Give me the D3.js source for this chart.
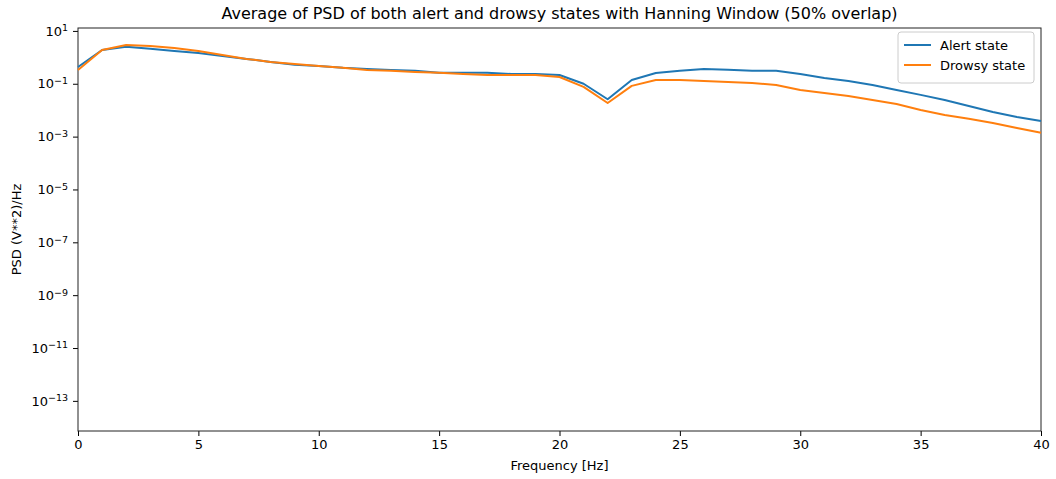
<!doctype html>
<html lang="en">
<head>
  <meta charset="utf-8">
  <title>Average PSD - Hanning Window</title>
  <style>
    body { margin:0; background:#fff; }
    svg text { font-family: "DejaVu Sans", sans-serif; fill:#000; }
    .tick line { stroke:#000; }
    .domain { stroke:none; }
  </style>
</head>
<body>
<svg id="chart" width="1056" height="479"></svg>

<script src="https://cdn.jsdelivr.net/npm/d3@7"></script>
<script>
// frequency bins 0..40 Hz
var freqs = d3.range(0, 41);

var alertPsd = [0.43, 1.9, 2.5, 2.1, 1.75, 1.47, 1.13, 0.87, 0.67, 0.52,
  0.47, 0.40, 0.36, 0.33, 0.31, 0.26, 0.26, 0.26, 0.235, 0.235,
  0.215, 0.10, 0.026, 0.139, 0.257, 0.31, 0.36, 0.34, 0.31, 0.31,
  0.235, 0.166, 0.128, 0.090, 0.058, 0.038, 0.0243, 0.0144, 0.0085, 0.0055,
  0.0039];

var drowsyPsd = [0.33, 1.9, 2.95, 2.7, 2.27, 1.75, 1.23, 0.87, 0.67, 0.56,
  0.47, 0.40, 0.33, 0.31, 0.28, 0.26, 0.235, 0.215, 0.215, 0.215,
  0.18, 0.076, 0.0187, 0.083, 0.139, 0.139, 0.128, 0.117, 0.107, 0.090,
  0.058, 0.045, 0.0345, 0.0243, 0.0172, 0.0102, 0.0066, 0.0047, 0.0033, 0.0021,
  0.0014];

var xTicks = [0, 5, 10, 15, 20, 25, 30, 35, 40];
var yTickExp = [1, -1, -3, -5, -7, -9, -11, -13];

var seriesNames = ["Alert state", "Drowsy state"];
var colors = ["#1f77b4", "#ff7f0e"];

var margin = {top: 28, right: 15, bottom: 48, left: 78};
var W = 1056, H = 479;
var w = W - margin.left - margin.right, h = H - margin.top - margin.bottom;

var svg = d3.select("#chart");
var g = svg.append("g").attr("transform", "translate(" + margin.left + "," + margin.top + ")");

var x = d3.scaleLinear().domain([0, 40]).range([0, w]);
var y = d3.scaleLog().domain([Math.pow(10, -14.14), Math.pow(10, 1.11)]).range([h, 0]);

// x axis
var xAxis = g.append("g").attr("transform", "translate(0," + h + ")")
  .call(d3.axisBottom(x).tickValues(xTicks).tickSize(5).tickPadding(4).tickFormat(d3.format("d")));
xAxis.selectAll("text").style("font-size", "13px");

// y axis with superscript labels
var yAxis = g.append("g")
  .call(d3.axisLeft(y).tickValues(yTickExp.map(function(e){ return Math.pow(10, e); })).tickSize(5).tickPadding(4).tickFormat(""));
yAxis.selectAll(".tick").each(function(d, i) {
  var t = d3.select(this).append("text")
    .attr("x", -10).attr("dy", "0.32em")
    .attr("text-anchor", "end").style("font-size", "13px");
  t.append("tspan").text("10");
  t.append("tspan").attr("dy", "-0.45em").style("font-size", "9.5px").text("\u2212".repeat(yTickExp[i] < 0 ? 1 : 0) + Math.abs(yTickExp[i]));
});

// frame
g.append("rect").attr("width", w).attr("height", h)
  .attr("fill", "none").attr("stroke", "#222").attr("stroke-width", 1);

// lines
var line = d3.line().x(function(d){ return x(d[0]); }).y(function(d){ return y(d[1]); });
[alertPsd, drowsyPsd].forEach(function(vals, k) {
  g.append("path")
    .datum(freqs.map(function(f, i){ return [f, vals[i]]; }))
    .attr("fill", "none").attr("stroke", colors[k]).attr("stroke-width", 2)
    .attr("stroke-linejoin", "round")
    .attr("d", line);
});

// title and axis labels
svg.append("text").attr("x", margin.left + w / 2).attr("y", 19)
  .attr("text-anchor", "middle").style("font-size", "16px")
  .text("Average of PSD of both alert and drowsy states with Hanning Window (50% overlap)");
svg.append("text").attr("x", margin.left + w / 2).attr("y", 470)
  .attr("text-anchor", "middle").style("font-size", "13px").text("Frequency [Hz]");
svg.append("text").attr("transform", "translate(21," + (margin.top + h / 2) + ") rotate(-90)")
  .attr("text-anchor", "middle").style("font-size", "13px").text("PSD (V**2)/Hz");

// legend
var lg = g.append("g").attr("transform", "translate(" + (w - 143) + ",4)");
lg.append("rect").attr("width", 136).attr("height", 51).attr("rx", 3)
  .attr("fill", "#fff").attr("fill-opacity", 0.8).attr("stroke", "#ccc");
seriesNames.forEach(function(name, k) {
  var yy = 13 + k * 20;
  lg.append("line").attr("x1", 6).attr("x2", 33).attr("y1", yy).attr("y2", yy)
    .attr("stroke", colors[k]).attr("stroke-width", 2);
  lg.append("text").attr("x", 42).attr("y", yy).attr("dy", "0.35em")
    .style("font-size", "13px").text(name);
});
</script>
</body>
</html>
